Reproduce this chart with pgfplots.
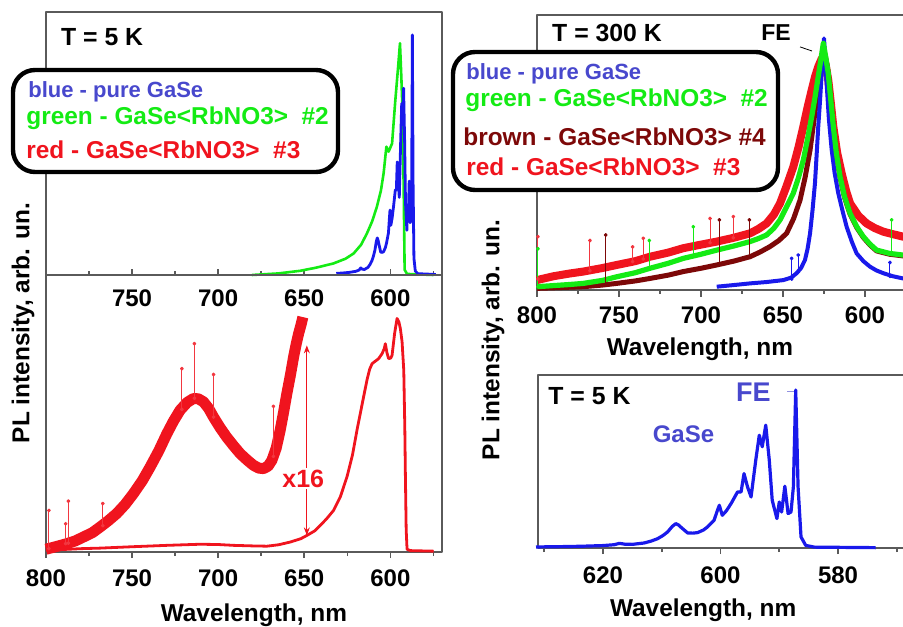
\documentclass[border=0pt]{standalone}
\usepackage{pgfplots}
\pgfplotsset{compat=1.18}
\usepackage{pgfplotstable}
\usepackage{fontspec}
\setmainfont{Liberation Sans}
\usetikzlibrary{arrows.meta}

\definecolor{cblue}{RGB}{25,25,235}
\definecolor{tblue}{RGB}{72,72,205}
\definecolor{cgreen}{RGB}{20,235,20}
\definecolor{cred}{RGB}{240,20,30}
\definecolor{cbrown}{RGB}{125,8,8}
\definecolor{frame}{RGB}{90,90,90}

\newcommand{\fs}[1]{\fontsize{#1}{#1}\selectfont\bfseries}

% T = 5 K, pure GaSe
\pgfplotstableread{
wl I
631.4 0.006
627 0.008
623.8 0.010
620 0.014
618.1 0.019
617.2 0.027
616.3 0.022
615.0 0.021
613 0.029
611.8 0.040
610.7 0.054
609.8 0.072
609.0 0.093
608.2 0.125
607.6 0.141
607.1 0.132
606.8 0.122
605.6 0.087
604.7 0.086
603.9 0.089
602.9 0.104
602.2 0.122
601.1 0.160
600.5 0.220
600.2 0.247
599.7 0.189
599.0 0.215
598.2 0.257
597.1 0.324
596.5 0.324
596.0 0.430
595.4 0.353
594.8 0.295
594.0 0.508
593.4 0.652
592.9 0.585
592.3 0.710
591.7 0.508
591.2 0.276
590.4 0.170
590.0 0.266
589.6 0.208
589.05 0.357
588.5 0.199
588.0 0.208
587.6 0.353
587.2 0.913
586.8 0.353
586.3 0.064
585.5 0.015
584 0.005
573.6 0.002
}\bluefive

% T = 5 K, GaSe<RbNO3> #2
\pgfplotstableread{
wl I
680.4 0.0
665 0.006
652.3 0.016
643 0.028
633.0 0.044
626 0.062
621.3 0.082
617 0.115
613.6 0.158
610.5 0.205
607.8 0.26
605.5 0.32
603.9 0.387
602.3 0.488
601.0 0.469
599.0 0.50
597.1 0.665
595.5 0.79
594.4 0.881
593.6 0.75
592.8 0.6
592.2 0.3
591.7 0.02
590.3 0.004
575 0.0
}\tlgreen

% T = 5 K, GaSe<RbNO3> #3 (x1)
\pgfplotstableread{
wl I
800 0.006
790 0.009
780 0.012
768.6 0.014
750 0.019
729.8 0.024
710.5 0.028
700 0.027
691.1 0.024
680 0.022
671.7 0.021
665 0.026
658.1 0.036
652 0.048
648.4 0.06
644 0.076
640.7 0.096
637 0.12
633.0 0.15
629 0.2
625.2 0.271
622 0.35
619.4 0.439
616.5 0.53
613.6 0.62
612 0.66
610.6 0.68
608.5 0.69
606.8 0.698
604.8 0.716
603.5 0.735
602.9 0.752
602 0.72
601.0 0.698
599.8 0.70
599.0 0.71
597.5 0.79
596.1 0.843
595 0.83
594.2 0.807
593.2 0.76
592.2 0.656
591.6 0.45
591.3 0.295
590.8 0.08
590.3 0.01
588.4 0.005
574.8 0.003
}\redone

% T = 5 K, GaSe<RbNO3> #3 (x16)
\pgfplotstableread{
wl I
800 0.010
795 0.018
788.0 0.030
783 0.040
778.3 0.054
773 0.070
768.6 0.090
764 0.112
758.9 0.139
754 0.172
749.2 0.211
744 0.258
739.5 0.307
734.5 0.365
729.8 0.427
726 0.472
722.1 0.512
718 0.540
714.4 0.554
711.5 0.553
708.5 0.542
705.5 0.518
702.7 0.487
699 0.450
695.1 0.415
691 0.383
687.2 0.355
683 0.331
679.5 0.313
676.5 0.303
673.7 0.301
671 0.310
668.8 0.331
666.3 0.375
664.0 0.439
662 0.505
660.1 0.572
658 0.640
656.2 0.704
654.7 0.750
653.3 0.788
651.8 0.822
650.8 0.848
}\redsixteen

% T = 300 K
\pgfplotstableread{
wl I
690.4 0.012
680 0.018
670.1 0.024
660 0.029
649.8 0.036
645 0.045
641.7 0.061
639 0.080
636.6 0.109
635 0.150
633.5 0.206
632 0.290
630.5 0.388
629.5 0.490
628.5 0.594
627.4 0.690
626.4 0.788
625.6 0.860
625.0 0.915
624.3 0.850
623.4 0.752
622 0.620
620.3 0.509
618.5 0.425
616.3 0.352
614 0.295
611.2 0.230
608 0.175
605.1 0.133
601 0.105
597 0.085
593 0.071
588.8 0.061
583 0.050
576.8 0.042
569.5 0.036
}\bluethree

\pgfplotstableread{
wl I
799.9 0.012
790 0.016
780 0.020
771.8 0.024
760 0.035
751.4 0.048
740 0.063
731.1 0.079
720 0.097
710.8 0.115
700 0.130
690.4 0.145
680 0.160
670.1 0.176
665 0.187
660 0.200
655.5 0.225
651.8 0.255
648 0.300
643.7 0.352
640.5 0.410
637.6 0.473
635 0.550
632.5 0.630
630.5 0.700
628.5 0.776
627 0.835
625.4 0.897
624 0.850
622.4 0.788
621 0.700
619.3 0.594
617.5 0.500
615.2 0.412
612.5 0.340
609.1 0.279
605 0.230
601 0.194
597 0.167
592.9 0.145
585 0.133
576.8 0.127
569.5 0.124
}\greenthree

\pgfplotstableread{
wl I
799.9 0.006
785 0.009
771.8 0.012
760 0.018
751.4 0.024
740 0.033
731.1 0.042
720 0.054
710.8 0.067
700 0.079
690.4 0.091
680 0.105
670.1 0.121
664 0.138
657.9 0.158
652.5 0.180
647.8 0.206
643.5 0.260
639.6 0.327
636.5 0.410
633.5 0.509
631.5 0.600
629.5 0.691
628 0.770
626.4 0.836
625.4 0.862
624 0.845
622.4 0.785
621 0.697
619.3 0.591
617.5 0.497
615.2 0.409
612.5 0.337
609.1 0.276
605 0.227
601 0.191
597 0.164
592.9 0.142
585 0.130
576.8 0.124
569.5 0.121
}\brownthree

\pgfplotstableread{
wl I
800 0.036
790 0.050
780 0.060
771.8 0.067
760 0.080
751.4 0.091
740 0.105
731.1 0.121
720 0.136
710.8 0.152
700 0.165
690.4 0.176
680 0.190
670.1 0.206
665 0.222
660 0.242
655.5 0.275
651.8 0.315
648 0.375
643.7 0.448
640.5 0.520
637.6 0.594
635 0.665
632.5 0.727
630.5 0.775
628.5 0.812
626.5 0.840
625.4 0.848
624 0.820
622.4 0.764
621 0.690
619.3 0.594
617 0.500
614.2 0.424
611.5 0.360
609.1 0.315
604 0.270
599 0.242
594 0.225
588.8 0.212
583 0.203
576.8 0.194
569.5 0.190
}\redthree

\pgfplotsset{
  panel/.style={scale only axis, anchor=north west, x dir=reverse,
    ymin=0, ymax=1, ytick=\empty, xtick pos=bottom, clip=false,
    axis line style={line width=0.9pt, draw=frame},
    tick style={line width=0.8pt, draw=frame},
    major tick length=3pt, minor tick length=2pt,
    ticklabel style={font=\fs{12}},
    /pgf/number format/assume math mode=true,
    /pgf/number format/1000 sep={},
    xticklabel style={anchor=center},
    unbounded coords=jump, line join=round},
}

\begin{document}
\begin{tikzpicture}
\useasboundingbox (0,0) rectangle (451.5pt,313pt);

% ---------- top left: T = 5 K ----------
\begin{axis}[panel, at={(23pt,307pt)}, width=198pt, height=131.5pt,
  xmin=570, xmax=800, xtick={600,650,700,750}, minor xtick={575,625,675,725,775},
  tick align=inside, xticklabel style={yshift=-11.5pt}]
\addplot[cgreen, line width=1.3pt] table[x=wl,y=I] {\tlgreen};
\addplot[cblue, line width=1.4pt] table[x=wl,y=I] {\bluefive};
\node[font=\fs{12.4}] at (axis cs:767.4,0.905) {T = 5 K};
\end{axis}

% ---------- bottom left: x1 and x16 ----------
\begin{axis}[panel, at={(23pt,175.5pt)}, width=198pt, height=138.5pt,
  xmin=570, xmax=800, xtick={600,650,700,750,800}, minor xtick={575,625,675,725,775},
  tick align=outside, xticklabel style={yshift=-10pt}]
\addplot[cred, line width=1.4pt] table[x=wl,y=I] {\redone};
\addplot[cred, line width=5.5pt] table[x=wl,y=I] {\redsixteen};
\addplot[cred!85, line width=0.5pt, mark=*, mark size=0.7pt] coordinates {
 (798.3,0.012) (798.3,0.15) (798.3,nan)
 (788.6,0.030) (788.6,0.102) (788.6,nan)
 (787.0,0.032) (787.0,0.184) (787.0,nan)
 (767.0,0.095) (767.0,0.175) (767.0,nan)
 (721.1,0.515) (721.1,0.662) (721.1,nan)
 (713.8,0.555) (713.8,0.752) (713.8,nan)
 (702.7,0.487) (702.7,0.641) (702.7,nan)
 (667.9,0.345) (667.9,0.526)};
\draw[cred, line width=0.5pt, {Stealth[length=4pt,width=3pt]}-{Stealth[length=4pt,width=3pt]}]
  (axis cs:648.5,0.06) -- (axis cs:648.5,0.746);
\node[cred, font=\fs{12.5}, fill=white, inner sep=1pt] at (axis cs:650.6,0.265) {x16};
\node[font=\fs{12.2}] at (rel axis cs:0.525,0) [yshift=-31.5pt] {Wavelength, nm};
\end{axis}

% ---------- top right: T = 300 K ----------
\begin{axis}[panel, at={(268.5pt,305.5pt)}, width=189pt, height=137.5pt,
  xmin=569.5, xmax=800, xtick={600,650,700,750,800}, minor xtick={625,675,725,775},
  tick align=outside, major tick length=3.5pt, xticklabel style={yshift=-9pt}]
\addplot[cred, line width=4pt] table[x=wl,y=I] {\redthree};
\addplot[cbrown, line width=2.5pt] table[x=wl,y=I] {\brownthree};
\addplot[cblue, line width=2pt] table[x=wl,y=I] {\bluethree};
\addplot[cgreen, line width=2.6pt] table[x=wl,y=I] {\greenthree};
\addplot[cred!85, line width=0.5pt, mark=*, mark size=0.7pt] coordinates {
 (799.4,0.04) (799.4,0.194) (799.4,nan)
 (767.7,0.07) (767.7,0.18) (767.7,nan)
 (741.7,0.103) (741.7,0.157) (741.7,nan)
 (735.2,0.113) (735.2,0.188) (735.2,nan)
 (694.5,0.172) (694.5,0.26) (694.5,nan)
 (680.3,0.19) (680.3,0.267)};
\addplot[cbrown, line width=0.5pt, mark=*, mark size=0.7pt] coordinates {
 (758.1,0.02) (758.1,0.2) (758.1,nan)
 (688.8,0.093) (688.8,0.255) (688.8,nan)
 (670.5,0.12) (670.5,0.255)};
\addplot[cgreen, line width=0.5pt, mark=*, mark size=0.7pt] coordinates {
 (799.4,0.012) (799.4,0.15) (799.4,nan)
 (731.5,0.079) (731.5,0.18) (731.5,nan)
 (704.7,0.125) (704.7,0.23) (704.7,nan)
 (583.7,0.13) (583.7,0.255)};
\addplot[cblue, line width=0.5pt, mark=*, mark size=0.7pt] coordinates {
 (644.7,0.04) (644.7,0.115) (644.7,nan)
 (640.7,0.065) (640.7,0.127) (640.7,nan)
 (584.8,0.05) (584.8,0.1)};
\node[font=\fs{12.4}] at (axis cs:757.3,0.935) {T = 300 K};
\node[font=\fs{11.5}] at (axis cs:654.3,0.935) {FE};
\draw[black, line width=0.4pt] (axis cs:639.6,0.884) -- (axis cs:632.3,0.869);
\node[font=\fs{12.2}] at (rel axis cs:0.431,0) [yshift=-29.5pt] {Wavelength, nm};
\end{axis}

% ---------- bottom right: T = 5 K pure GaSe ----------
\begin{axis}[panel, at={(269pt,125.5pt)}, width=188.5pt, height=86.5pt,
  xmin=566.9, xmax=631.06, xtick={580,600,620}, minor xtick={570,590,610,630},
  tick align=outside, xticklabel style={yshift=-10.5pt}]
\addplot[cblue, line width=1.6pt] table[x=wl,y=I] {\bluefive};
\node[font=\fs{12.4}] at (axis cs:622.3,0.878) {T = 5 K};
\node[tblue, font=\fs{13.5}] at (axis cs:594.4,0.90) {FE};
\draw[tblue!60, line width=0.4pt] (axis cs:588.6,0.903) -- (axis cs:587.5,0.903);
\node[tblue, font=\fs{12}] at (axis cs:606.3,0.658) {GaSe};
\node[font=\fs{12.2}] at (rel axis cs:0.438,0) [yshift=-31pt] {Wavelength, nm};
\end{axis}

% ---------- y labels ----------
\node[rotate=90, font=\fs{12.2}] at (11.5pt,151.5pt) {PL intensity, arb. un.};
\node[rotate=90, font=\fs{12.2}] at (246.5pt,143pt) {PL intensity, arb. un.};

% ---------- legend boxes ----------
\draw[line width=2.2pt, rounded corners=11pt, fill=white] (6.5pt,227pt) rectangle (169pt,278pt);
\node[anchor=west, tblue, font=\fs{11}, inner sep=0pt] at (14pt,267pt) {blue - pure GaSe};
\node[anchor=west, cgreen, font=\fs{12.2}, inner sep=0pt] at (13pt,254pt) {green - GaSe<RbNO3>\ \ \#2};
\node[anchor=west, cred, font=\fs{12.2}, inner sep=0pt] at (13pt,238pt) {red - GaSe<RbNO3>\ \ \#3};

\draw[line width=2.2pt, rounded corners=11pt, fill=white] (226.5pt,218pt) rectangle (389pt,287pt);
\node[anchor=west, tblue, font=\fs{11}, inner sep=0pt] at (233pt,276pt) {blue - pure GaSe};
\node[anchor=west, cgreen, font=\fs{12.2}, inner sep=0pt] at (232.5pt,263pt) {green - GaSe<RbNO3>\ \ \#2};
\node[anchor=west, cbrown, font=\fs{12.2}, inner sep=0pt] at (231.5pt,244.5pt) {brown - GaSe<RbNO3> \#4};
\node[anchor=west, cred, font=\fs{12.2}, inner sep=0pt] at (233pt,229.5pt) {red - GaSe<RbNO3>\ \ \#3};
\end{tikzpicture}
\end{document}
